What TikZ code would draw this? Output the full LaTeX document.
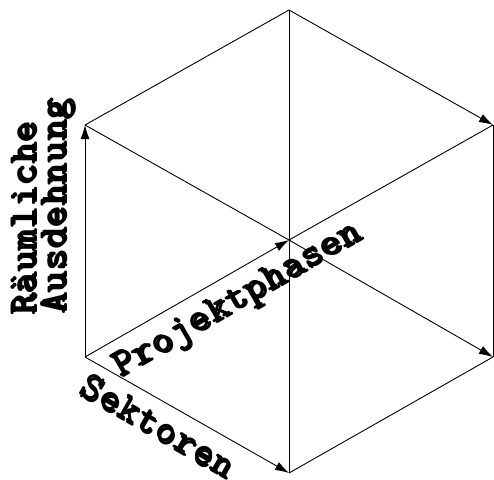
\documentclass[tikz,border=0pt]{standalone}
\usepackage{fontspec}
\usepackage{pdfrender}
\usetikzlibrary{arrows.meta}
\newfontfamily\axisfont{lmmonolt10-bold.otf}[LetterSpace=1.5]
\newcommand{\axistext}[1]{%
  \rlap{\kern2pt\raisebox{-2pt}{\textpdfrender{TextRenderingMode=FillStroke,LineWidth=2.4pt,FillColor=black,StrokeColor=black}{#1}}}%
  \textpdfrender{TextRenderingMode=FillStroke,LineWidth=3.4pt,FillColor=white,StrokeColor=black}{#1}}

\begin{document}
\begin{tikzpicture}[x=1pt, y=-1pt,
    edge/.style={line width=0.9pt, black},
    arr/.style={edge, -{Latex[length=14pt, width=9pt]}},
    axis/.style={font=\axisfont\fontsize{40}{40}\selectfont, inner sep=0pt}
  ]
  \useasboundingbox (0,0) rectangle (494,479);

  % corners of the hexagon
  \coordinate (t) at (289,10);
  \coordinate (ul) at (85,125);
  \coordinate (ur) at (493,125);
  \coordinate (c) at (289,240);
  \coordinate (ll) at (85,357);
  \coordinate (lr) at (493,357);
  \coordinate (b) at (289,473);

  \draw[edge] (t) -- (ul);
  \draw[edge] (t) -- (b);
  \draw[edge] (ul) -- (c);
  \draw[edge] (c) -- (ur);
  \draw[edge] (ur) -- (lr);
  \draw[edge] (b) -- (lr);
  \draw[arr] (t) -- (ur);
  \draw[arr] (c) -- (lr);

  % axes
  \draw[arr] (ll) -- (ul);
  \draw[arr] (ll) -- (c);
  \draw[arr] (ll) -- (b);

  \node[axis, rotate=90] (raeum) at (24,219) {\axistext{Räumliche}};
  \node[axis, rotate=90] (ausd) at (58,207) {\axistext{Ausdehnung}};
  \node[axis, rotate=30] (phasen) at (238,302) {\axistext{Projektphasen}};
  \node[axis, rotate=-30] (sektor) at (158,426) {\axistext{Sektoren}};
\end{tikzpicture}
\end{document}
